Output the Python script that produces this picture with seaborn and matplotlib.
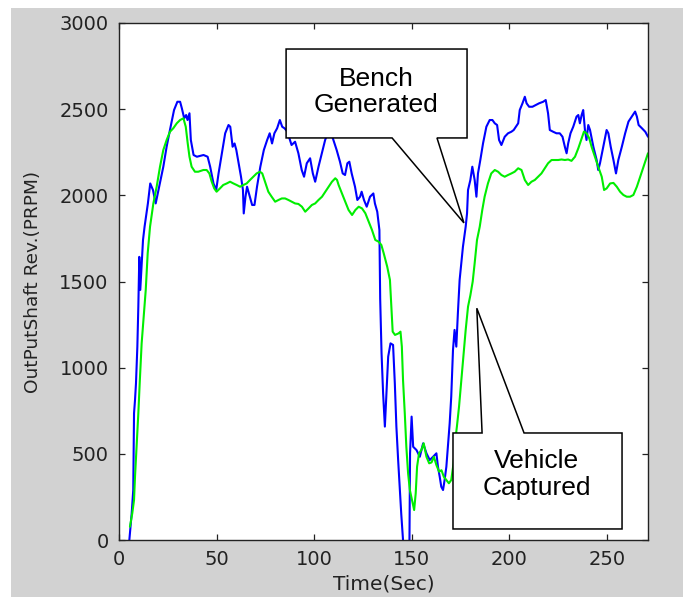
import matplotlib
matplotlib.use("Agg")
import matplotlib.pyplot as plt
from matplotlib.patches import Polygon, Rectangle
import seaborn as sns
import pandas as pd

# ---------------- data ----------------
bench_t = [5.3, 6.5, 7.3, 7.7, 8.2, 8.7, 9.4, 9.9, 10.4, 10.9, 12.3, 13.1, 14.8, 16.0, 17.4,
           18.8, 20.6, 22.7, 24.4, 26.1, 28.2, 29.9, 31.3, 32.2, 33.4, 34.4, 35.1, 36.1, 36.8,
           38.2, 39.9, 43.3, 45.4, 46.7, 48.4, 49.8, 51.0, 52.7, 54.4, 56.1, 57.0, 58.2, 59.2,
           60.1, 61.3, 62.5, 63.5, 63.9, 64.8, 65.6, 67.0, 68.2, 69.4, 70.7, 72.4, 74.2, 75.9,
           77.2, 78.4, 79.6, 81.0, 82.4, 83.6, 84.8, 86.2, 87.6, 88.4, 90.2, 91.9, 93.6, 94.8,
           96.2, 97.9, 99.3, 100.5, 102.2, 103.9, 105.6, 107.5, 109.0, 111.5, 113.2, 114.6,
           115.8, 117.0, 118.0, 119.2, 120.9, 122.1, 123.5, 124.3, 125.5, 126.9, 128.6, 130.3,
           131.1, 132.3, 133.4, 133.8, 134.5, 135.3, 136.2, 137.0, 137.9, 139.1, 140.4, 141.3,
           142.1, 143.0, 143.8, 144.6, 145.5, 146.0, 148.3, 148.8, 149.1, 149.9, 150.7, 152.4,
           154.1, 155.8, 157.5, 159.2, 160.9, 162.6, 163.4, 164.3, 165.1, 166.0, 166.8, 167.7,
           168.5, 169.4, 170.2, 171.1, 171.9, 172.8, 173.6, 174.5, 176.2, 177.6, 178.3, 178.8,
           180.0, 181.0, 182.2, 183.1, 183.9, 185.1, 186.5, 188.2, 189.9, 191.3, 192.5, 193.7,
           194.7, 195.9, 197.6, 199.3, 201.0, 202.2, 203.3, 204.5, 205.3, 206.7, 207.9, 208.8,
           210.1, 211.8, 213.5, 215.2, 217.3, 218.6, 219.8, 220.7, 222.4, 224.1, 225.8, 227.2,
           228.4, 229.3, 230.1, 231.3, 232.7, 234.4, 235.3, 236.1, 237.0, 237.8, 238.7, 239.5,
           240.4, 241.3, 243.0, 244.7, 245.5, 246.4, 248.1, 249.8, 250.7, 251.9, 253.3, 254.6,
           255.8, 257.6, 259.3, 261.0, 262.7, 264.4, 265.3, 266.2, 267.9, 269.6, 271.0]
bench_rpm = [0, 155, 290, 735, 812, 909, 1122, 1354, 1643, 1451, 1741, 1818, 1953, 2069, 2031,
             1953, 2050, 2166, 2282, 2379, 2495, 2543, 2543, 2505, 2447, 2466, 2437, 2476, 2321,
             2234, 2224, 2234, 2224, 2166, 2069, 2031, 2127, 2244, 2360, 2408, 2398, 2282, 2301,
             2263, 2186, 2108, 2031, 1895, 1992, 2050, 1992, 1944, 1944, 2050, 2166, 2263, 2321,
             2360, 2301, 2360, 2389, 2437, 2398, 2389, 2370, 2321, 2292, 2311, 2244, 2147, 2108,
             2186, 2215, 2127, 2079, 2166, 2244, 2321, 2380, 2350, 2263, 2195, 2127,
             2118, 2186, 2195, 2127, 2050, 1973, 1992, 2021, 1973, 1934, 1992, 2011,
             1953, 1905, 1799, 1400, 1083, 851, 658, 851, 1064, 1141, 1132, 909,
             658, 464, 309, 150, 0, -200, -200, 0, 503, 716, 541, 522,
             483, 561, 503, 464, 483, 503, 425, 367, 309, 290, 348, 425,
             541, 677, 832, 1103, 1219, 1122, 1315, 1509, 1702, 1818, 1896, 2031,
             2089, 2166, 2089, 1992, 2127, 2205, 2302, 2398, 2437, 2437, 2418, 2408,
             2321, 2292, 2340, 2360, 2369, 2379, 2398, 2418, 2495, 2534, 2572, 2534,
             2514, 2514, 2524, 2534, 2543, 2553, 2476, 2379, 2369, 2360, 2360, 2340,
             2282, 2244, 2301, 2360, 2398, 2457, 2466, 2418, 2466, 2495, 2379, 2321,
             2408, 2379, 2282, 2205, 2147, 2186, 2282, 2379, 2360, 2282, 2205, 2127,
             2205, 2282, 2360, 2428, 2457, 2486, 2457, 2408, 2389, 2369, 2340]

vehicle_t = [5.6, 6.8, 7.7, 8.2, 9.0, 9.9, 10.6, 11.6, 12.8, 13.7, 14.7, 15.9, 17.6, 19.3, 21.0,
             22.7, 24.4, 26.1, 27.8, 29.6, 31.3, 33.0, 34.2, 35.2, 36.1, 37.2, 38.9, 40.6, 43.2,
             44.9, 46.3, 47.5, 48.8, 50.0, 51.7, 53.4, 55.2, 56.9, 58.6, 60.3, 62.0, 63.7, 65.4,
             67.1, 68.8, 70.5, 72.2, 73.4, 74.8, 76.5, 78.2, 80.0, 81.7, 83.4, 85.1, 86.8, 88.5,
             90.2, 91.9, 93.7, 95.4, 97.1, 98.8, 100.5, 102.2, 104.0, 105.7, 107.4, 109.1, 110.8,
             111.7, 112.5, 114.2, 115.9, 117.6, 119.4, 121.1, 122.8, 124.5, 126.2, 127.9, 129.6,
             131.3, 133.0, 134.4, 135.6, 137.4, 138.8, 139.7, 140.2, 141.4, 143.2, 144.2, 144.9,
             145.5, 146.4, 147.2, 148.1, 149.0, 150.1, 151.2, 152.0, 152.7, 153.7, 154.9, 156.1,
             157.5, 158.9, 160.1, 161.3, 162.6, 164.0, 165.2, 166.4, 167.7, 169.0, 170.2, 171.4,
             172.5, 173.1, 174.2, 175.4, 176.6, 177.6, 178.8, 180.0, 181.2, 182.2, 183.4, 184.8,
             186.1, 187.3, 189.0, 190.7, 192.5, 194.2, 195.9, 197.6, 199.3, 201.0, 202.7, 204.5,
             206.2, 207.9, 209.6, 211.3, 213.0, 214.7, 216.4, 218.1, 219.8, 221.6, 223.3, 225.0,
             226.7, 228.4, 230.1, 231.8, 233.6, 235.3, 237.0, 238.2, 239.5, 240.9, 242.1, 243.8,
             245.5, 247.3, 248.5, 249.8, 251.6, 253.3, 255.0, 256.7, 258.4, 260.1, 261.8, 263.5,
             265.3, 267.0, 268.7, 270.4, 271.0]
vehicle_rpm = [77, 155, 232, 367, 541, 735, 909, 1141, 1315, 1451, 1664, 1818, 1953, 2050, 2166,
               2263, 2321, 2369, 2389, 2418, 2437, 2447, 2398, 2302, 2224, 2166, 2137, 2137, 2147,
               2147, 2127, 2079, 2040, 2021, 2040, 2060, 2069, 2079, 2069, 2060, 2050, 2060, 2069,
               2089, 2108, 2127, 2137, 2127, 2079, 2021, 1992, 1963, 1973, 1982, 1982, 1973, 1963,
               1953, 1950, 1934, 1905, 1924, 1944, 1953, 1973, 1992, 2021, 2050, 2079, 2099,
               2089, 2060, 2011, 1963, 1915, 1886, 1915, 1934, 1924, 1896, 1847, 1799,
               1741, 1731, 1712, 1664, 1586, 1509, 1315, 1209, 1190, 1199, 1209, 1122,
               929, 735, 541, 387, 290, 232, 174, 271, 425, 503, 522, 561,
               483, 445, 450, 483, 435, 396, 405, 367, 348, 329, 348, 445,
               600, 658, 774, 929, 1083, 1219, 1354, 1420, 1500, 1606, 1741, 1818,
               1915, 1992, 2069, 2127, 2147, 2137, 2118, 2108, 2118, 2127, 2137, 2157,
               2147, 2089, 2060, 2079, 2089, 2108, 2127, 2157, 2186, 2205, 2205, 2205,
               2208, 2205, 2208, 2200, 2224, 2273, 2331, 2370, 2360, 2331, 2282, 2224,
               2166, 2108, 2031, 2040, 2069, 2072, 2050, 2021, 2002, 1992, 1992, 2002,
               2050, 2108, 2166, 2224, 2244]

x_ticks = [0, 50, 100, 150, 200, 250]
y_ticks = [0, 500, 1000, 1500, 2000, 2500, 3000]
x_label = "Time(Sec)"
y_label = "OutPutShaft Rev.(PRPM)"
bench_label = "Bench\nGenerated"
vehicle_label = "Vehicle\nCaptured"

# ---------------- style ----------------
sns.set_theme(style="white")
plt.rcParams["font.family"] = ["DejaVu Sans"]

W, H = 689, 597
fig = plt.figure(figsize=(W / 100, H / 100), dpi=100, facecolor="white")
fig.patches.append(Rectangle((11 / W, 0), (683 - 11) / W, (H - 8) / H,
                             transform=fig.transFigure, facecolor="#d2d2d2",
                             edgecolor="none", zorder=-10))
ax = fig.add_axes([119 / W, (H - 540) / H, (648 - 119) / W, (540 - 23) / H])
ax.set_facecolor("white")

df_b = pd.DataFrame({"t": bench_t, "rpm": bench_rpm})
df_v = pd.DataFrame({"t": vehicle_t, "rpm": vehicle_rpm})
sns.lineplot(data=df_b, x="t", y="rpm", ax=ax, color="#0000ff", linewidth=1.5,
             estimator=None, sort=False)
sns.lineplot(data=df_v, x="t", y="rpm", ax=ax, color="#00ee00", linewidth=1.5,
             estimator=None, sort=False)

ax.set_xlim(0, 271)
ax.set_ylim(0, 3000)
ax.set_xticks(x_ticks)
ax.set_yticks(y_ticks)
ax.tick_params(direction="in", length=4.5, width=0.9, colors="#222222",
               labelcolor="#222222", labelsize=14, pad=7.5,
               top=True, right=True, bottom=True, left=True)
for s in ax.spines.values():
    s.set_color("#222222")
    s.set_linewidth(1.0)

ax.set_xlabel(x_label, fontsize=14.5, color="#222222")
ax.set_ylabel(y_label, fontsize=13.3, color="#222222")
ax.xaxis.set_label_coords(0.5, -0.066)
ax.yaxis.set_label_coords(-0.1456, 0.5)

# ---------------- callouts ----------------
bench_poly = [(85.6, 2849), (178.3, 2849), (178.3, 2333), (162.9, 2333), (176.7, 1840),
              (139.9, 2333), (85.6, 2333)]
vehicle_poly = [(171.1, 621), (186.0, 621), (183.3, 1345), (207.5, 621), (257.7, 621),
                (257.7, 64), (171.1, 64)]
for poly in (bench_poly, vehicle_poly):
    ax.add_patch(Polygon(poly, closed=True, facecolor="white", edgecolor="black",
                         linewidth=1.1, zorder=5, clip_on=False))
ax.text(131.8, 2600, bench_label, ha="center", va="center", fontsize=19,
        family="Liberation Sans", linespacing=1.12, zorder=6, color="black")
ax.text(214.1, 380, vehicle_label, ha="center", va="center", fontsize=19,
        family="Liberation Sans", linespacing=1.12, zorder=6, color="black")

fig.savefig("out.png", dpi=100, facecolor=fig.get_facecolor())
